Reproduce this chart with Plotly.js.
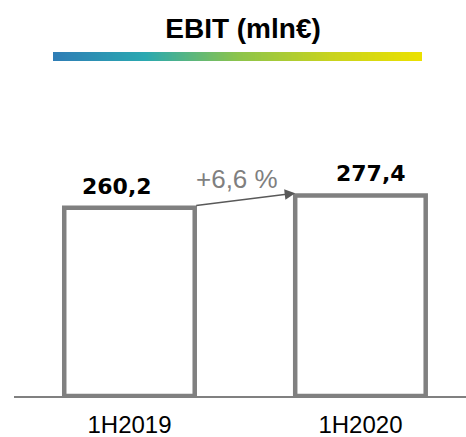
<!DOCTYPE html>
<html>
<head>
<meta charset="utf-8">
<script src="https://cdn.plot.ly/plotly-3.0.1.min.js"></script>
<style>html,body{margin:0;padding:0;background:#fff;}#chart{width:466px;height:437px;}</style>
</head>
<body>
<div id="chart"></div>
<script>
const categories = ["1H2019", "1H2020"];
const values = [260.2, 277.4];
const valueLabels = ["260,2", "277,4"];
const changeLabel = "+6,6 %";
const titleText = "EBIT (mln€)";
const gradientStops = ["#2f7db6", "#2aa9b1", "#8cc44c", "#c8d31f", "#ece100"];

// gradient image
const cv = document.createElement("canvas");
cv.width = 400; cv.height = 10;
const ctx = cv.getContext("2d");
const g = ctx.createLinearGradient(0, 0, 400, 0);
gradientStops.forEach((c, i) => g.addColorStop(i / (gradientStops.length - 1), c));
ctx.fillStyle = g; ctx.fillRect(0, 0, 400, 10);
const gradURL = cv.toDataURL();

const barW = 0.565;
const greyLine = "#808080";

const trace = {
  type: "bar",
  x: categories,
  y: values,
  width: barW,
  marker: { color: "#ffffff", line: { color: greyLine, width: 4.5 } },
  hoverinfo: "skip"
};

const annotations = [
  { x: 0, y: values[0], xref: "x", yref: "y", text: "<b>" + valueLabels[0] + "</b>", showarrow: false,
    xshift: -12, yshift: 21, yanchor: "middle",
    font: { family: "DejaVu Sans", size: 22, color: "#000" } },
  { x: 1, y: values[1], xref: "x", yref: "y", text: "<b>" + valueLabels[1] + "</b>", showarrow: false,
    xshift: 11, yshift: 22, yanchor: "middle",
    font: { family: "DejaVu Sans", size: 22, color: "#000" } },
  { x: 0.5, y: (values[0] + values[1]) / 2, xref: "x", yref: "y", text: changeLabel, showarrow: false,
    xshift: -8, yshift: 23, yanchor: "middle",
    font: { family: "Liberation Sans, Arial", size: 26, color: "#7f7f7f" } },
  { x: 1 - barW / 2, y: values[1] + 3, xref: "x", yref: "y",
    ax: barW / 2, ay: values[0] + 3, axref: "x", ayref: "y",
    text: "", showarrow: true, arrowhead: 2, arrowsize: 1.4, arrowwidth: 1.5,
    arrowcolor: "#595959", standoff: 0, startstandoff: 0 }
];

const layout = {
  width: 466, height: 437,
  margin: { l: 14, r: 0, t: 80, b: 41 },
  paper_bgcolor: "#fff", plot_bgcolor: "#fff",
  showlegend: false,
  title: { text: "<b>" + titleText + "</b>", xref: "container", x: 0.5215, xanchor: "center",
    yref: "container", y: 1 - 28 / 437, yanchor: "middle",
    font: { family: "Liberation Sans, Arial", size: 28, color: "#000" } },
  xaxis: { type: "category", range: [-0.5, 1.457], showline: true, linecolor: greyLine, linewidth: 2,
    showgrid: false, zeroline: false, ticks: "", fixedrange: true, ticklabelstandoff: 6,
    tickfont: { family: "Liberation Sans, Arial", size: 24, color: "#000" } },
  yaxis: { range: [0, 437], visible: false, showgrid: false, zeroline: false, fixedrange: true },
  annotations: annotations,
  images: [{ source: gradURL, xref: "paper", yref: "paper", x: (53 - 14) / 452, y: (396 - 52) / 316,
    sizex: 369 / 452, sizey: 9 / 316, sizing: "stretch", xanchor: "left", yanchor: "top", layer: "above" }]
};

Plotly.newPlot("chart", [trace], layout, { displayModeBar: false, staticPlot: true });
</script>
</body>
</html>
